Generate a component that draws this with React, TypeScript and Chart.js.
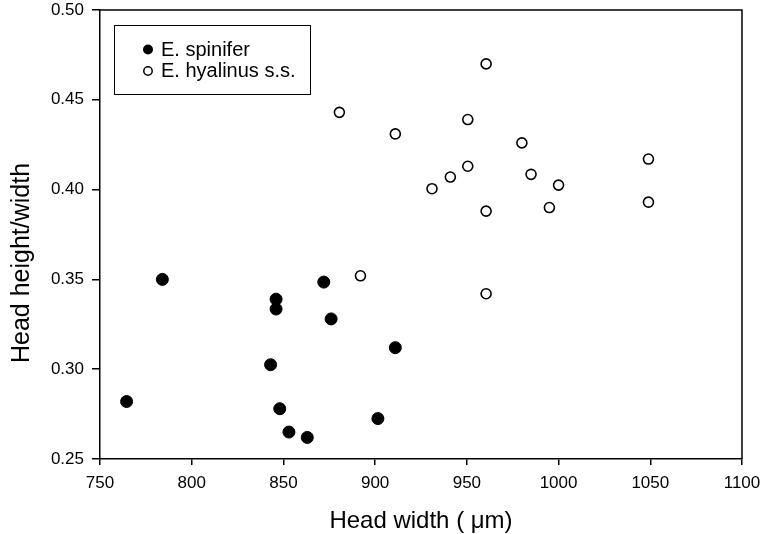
import React, { useEffect, useRef } from "react";
import { Chart, registerables } from "chart.js";

Chart.register(...registerables);

const spiniferLabel = "E. spinifer";
const hyalinusLabel = "E. hyalinus s.s.";
const xTitle = "Head width ( \u03bcm)";
const yTitle = "Head height/width";

const spiniferX = [764.5, 784, 843, 846, 846, 848, 853, 863, 872, 876, 901.5, 911];
const spiniferY = [0.282, 0.35, 0.3025, 0.339, 0.3335, 0.278, 0.265, 0.262, 0.3485, 0.328, 0.2725, 0.312];

const hyalinusX = [880.5, 892, 911, 931, 941, 950.5, 950.5, 960.5, 960.5, 960.5, 980, 985, 995, 1000, 1049, 1049];
const hyalinusY = [0.443, 0.352, 0.431, 0.4005, 0.407, 0.439, 0.413, 0.47, 0.388, 0.342, 0.426, 0.4085, 0.39, 0.4025, 0.417, 0.393];

const xMin = 750;
const xMax = 1100;
const xStep = 50;
const yMin = 0.25;
const yMax = 0.5;
const yStep = 0.05;

const FONT = '"Liberation Sans", Arial, Helvetica, sans-serif';

export default function App() {
  const ref = useRef<HTMLCanvasElement>(null);

  useEffect(() => {
    const canvas = ref.current;
    if (!canvas) return;

    const framePlugin = {
      id: "frame",
      afterDraw(chart: any) {
        const { ctx, chartArea } = chart;
        ctx.save();
        ctx.strokeStyle = "#000";
        ctx.lineWidth = 1.5;
        ctx.beginPath();
        ctx.moveTo(chartArea.left, chartArea.top);
        ctx.lineTo(chartArea.right, chartArea.top);
        ctx.lineTo(chartArea.right, chartArea.bottom);
        ctx.stroke();

        // legend
        const lx = 114, ly = 25, lw = 196, lh = 69;
        ctx.lineWidth = 1;
        ctx.fillStyle = "#fff";
        ctx.fillRect(lx, ly, lw, lh);
        ctx.strokeRect(lx + 0.5, ly + 0.5, lw, lh);
        ctx.font = `20px ${FONT}`;
        ctx.fillStyle = "#000";
        ctx.textAlign = "left";
        ctx.textBaseline = "alphabetic";
        const ds = chart.data.datasets;
        ctx.beginPath();
        ctx.arc(148, 49.5, 5, 0, Math.PI * 2);
        ctx.fillStyle = "#000";
        ctx.fill();
        ctx.fillText(ds[0].label, 161, 56);
        ctx.beginPath();
        ctx.arc(148, 71, 4.2, 0, Math.PI * 2);
        ctx.fillStyle = "#fff";
        ctx.fill();
        ctx.lineWidth = 1.5;
        ctx.strokeStyle = "#000";
        ctx.stroke();
        ctx.fillStyle = "#000";
        ctx.fillText(ds[1].label, 161, 77);

        // axis titles
        ctx.font = `24px ${FONT}`;
        ctx.textAlign = "center";
        ctx.fillText(xTitle, (chartArea.left + chartArea.right) / 2, 528);
        ctx.save();
        ctx.translate(29, 263);
        ctx.rotate(-Math.PI / 2);
        ctx.font = `25px ${FONT}`;
        ctx.fillText(yTitle, 0, 0);
        ctx.restore();
        ctx.restore();
      },
    };

    const chart = new Chart(canvas, {
      type: "scatter",
      data: {
        datasets: [
          {
            label: spiniferLabel,
            data: spiniferX.map((x, i) => ({ x, y: spiniferY[i] })),
            pointRadius: 6,
            pointBackgroundColor: "#000",
            pointBorderColor: "#000",
            pointBorderWidth: 1,
          },
          {
            label: hyalinusLabel,
            data: hyalinusX.map((x, i) => ({ x, y: hyalinusY[i] })),
            pointRadius: 5,
            pointBackgroundColor: "#fff",
            pointBorderColor: "#000",
            pointBorderWidth: 1.6,
          },
        ],
      },
      plugins: [framePlugin],
      options: {
        animation: false,
        responsive: false,
        maintainAspectRatio: false,
        layout: { padding: { top: 10, right: 25, left: 0, bottom: 0 } },
        plugins: {
          legend: { display: false },
          tooltip: { enabled: false },
        },
        scales: {
          x: {
            type: "linear",
            min: xMin,
            max: xMax,
            afterFit(scale: any) {
              scale.height = 75;
              scale.paddingLeft = 0;
              scale.paddingRight = 0;
            },
            ticks: {
              stepSize: xStep,
              color: "#000",
              font: { family: FONT, size: 17 },
              padding: 8,
              maxRotation: 0,
              callback: (v: any) => String(Math.round(Number(v))),
            },
            grid: {
              drawOnChartArea: false,
              drawTicks: true,
              tickLength: 6,
              color: "#000",
              lineWidth: 1.5,
            },
            border: { display: true, color: "#000", width: 1.5 },
          },
          y: {
            type: "linear",
            min: yMin,
            max: yMax,
            afterFit(scale: any) {
              scale.width = 100;
              scale.paddingTop = 0;
              scale.paddingBottom = 0;
            },
            ticks: {
              stepSize: yStep,
              color: "#000",
              font: { family: FONT, size: 17 },
              padding: 8,
              callback: (v: any) => Number(v).toFixed(2),
            },
            grid: {
              drawOnChartArea: false,
              drawTicks: true,
              tickLength: 8,
              color: "#000",
              lineWidth: 1.5,
            },
            border: { display: true, color: "#000", width: 1.5 },
          },
        },
      },
    });

    return () => chart.destroy();
  }, []);

  return (
    <div style={{ position: "fixed", left: 0, top: 0, width: 767, height: 534, background: "#fff" }}>
      <canvas ref={ref} width={767} height={534} style={{ width: 767, height: 534, display: "block" }} />
    </div>
  );
}
